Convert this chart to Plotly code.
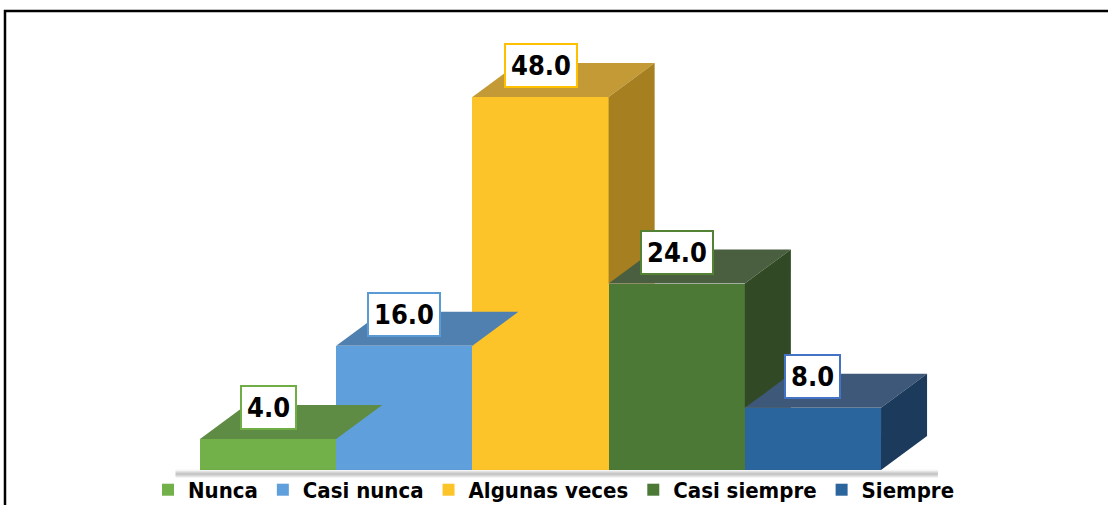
import plotly.graph_objects as go

categories = ["Nunca", "Casi nunca", "Algunas veces", "Casi siempre", "Siempre"]
values = [4.0, 16.0, 48.0, 24.0, 8.0]

front_colors = ["#72b04a", "#5f9fdc", "#fdc42a", "#4c7a36", "#2b659e"]
top_colors = ["#5f8c45", "#4f80b0", "#c39a36", "#4a5f3f", "#3d5878"]
side_colors = ["#557a3d", "#3f6c99", "#a67f20", "#314a25", "#1c3a5c"]
label_borders = ["#70ad47", "#5b9bd5", "#ffc000", "#548235", "#4472c4"]

FONT = "DejaVu Sans Condensed, Liberation Sans Narrow, sans-serif"
DX, DY = 0.338, 4.376  # depth of the fake 3D blocks, in data units

fig = go.Figure()

# soft shadow under the base
for w, a in [(9, 0.04), (6, 0.07), (3, 0.12)]:
    fig.add_trace(go.Scatter(
        x=[-0.68, 4.5 + DX + 0.08], y=[-0.5, -0.5], mode="lines",
        line=dict(color=f"rgba(0,0,0,{a})", width=w), hoverinfo="skip", showlegend=False,
    ))

# front faces
for i, (cat, v) in enumerate(zip(categories, values)):
    fig.add_trace(go.Bar(
        x=[i], y=[v], width=1, name=cat,
        marker=dict(color=front_colors[i], line=dict(width=0)),
    ))

# top and side faces, left to right so nearer blocks cover farther ones
for i, v in enumerate(values):
    x0, x1 = i - 0.5, i + 0.5
    fig.add_trace(go.Scatter(
        x=[x0, x1, x1 + DX, x0 + DX, x0], y=[v, v, v + DY, v + DY, v],
        fill="toself", fillcolor=top_colors[i], mode="lines", line=dict(width=0),
        hoverinfo="skip", showlegend=False,
    ))
    vn = values[i + 1] if i + 1 < len(values) else 0
    if vn >= v:
        continue
    if vn >= DY:
        sx = [x1, x1 + DX, x1 + DX, x1, x1]
        sy = [vn, vn, v + DY, v, vn]
    else:
        sx = [x1, x1 + DX * vn / DY, x1 + DX, x1 + DX, x1, x1]
        sy = [vn, vn, DY, v + DY, v, vn]
    fig.add_trace(go.Scatter(
        x=sx, y=sy, fill="toself", fillcolor=side_colors[i], mode="lines",
        line=dict(width=0), hoverinfo="skip", showlegend=False,
    ))

for i, v in enumerate(values):
    fig.add_annotation(
        x=i, y=v + 4.0, text=f"<b>{v:.1f}</b>", showarrow=False,
        font=dict(family=FONT, size=27, color="black"),
        bgcolor="white", bordercolor=label_borders[i], borderwidth=2, borderpad=5,
        yanchor="middle",
    )

fig.add_shape(type="rect", xref="paper", yref="paper",
              x0=-0.0046, x1=1.02, y0=-0.1, y1=1.0197,
              line=dict(color="black", width=2.5), layer="below")

fig.update_layout(
    width=1108, height=505,
    margin=dict(l=10, r=10, t=20, b=27, autoexpand=False),
    plot_bgcolor="white", paper_bgcolor="white",
    barmode="overlay", bargap=0,
    font=dict(family=FONT, size=22, color="black", weight="bold"),
    xaxis=dict(range=[-1.895, 6.093], visible=False, fixedrange=True),
    yaxis=dict(range=[-1.03, 57.92], visible=False, fixedrange=True),
    legend=dict(orientation="h", x=0.5, xanchor="center", y=-0.026, yanchor="middle",
                font=dict(family=FONT, size=22, color="black", weight="bold"),
                itemwidth=30, bgcolor="rgba(0,0,0,0)"),
)

# drop the browser's default page margin so the figure sits at the window corner
fig.write_html("out.html", config={"displayModeBar": False},
               post_script="document.body.style.margin='0';")
